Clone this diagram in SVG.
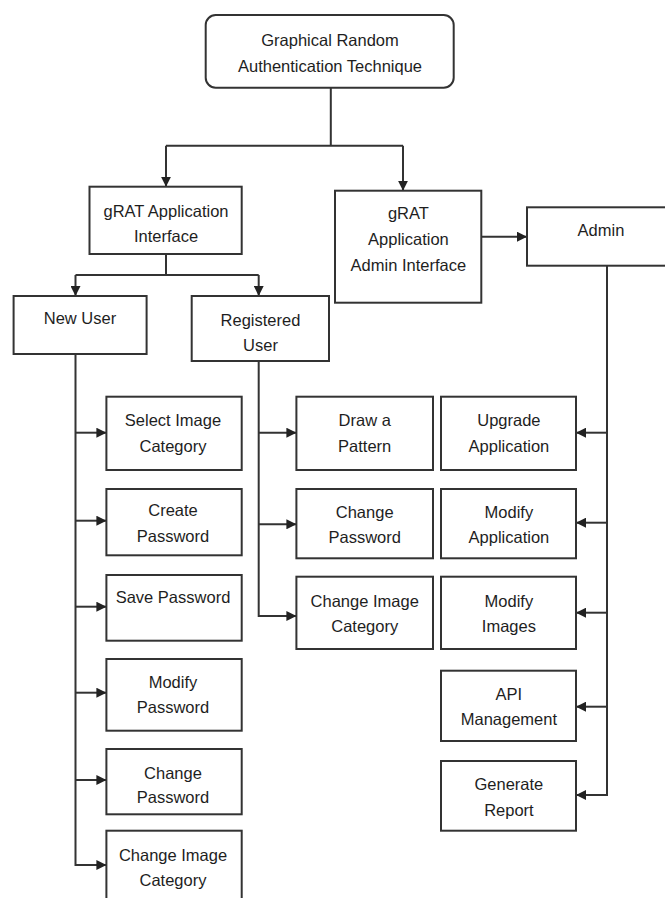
<svg xmlns="http://www.w3.org/2000/svg" width="665" height="898" viewBox="0 0 665 898">
<style>
.bx{fill:#fff;stroke:#333;stroke-width:2}
.t{font-family:"Liberation Sans",Arial,sans-serif;font-size:16.5px;fill:#1e1e1e;text-anchor:middle;dominant-baseline:central}
.c{fill:none;stroke:#333;stroke-width:2}
</style>
<defs>
<marker id="a" viewBox="0 0 10 10" refX="10" refY="5" markerWidth="10" markerHeight="10" markerUnits="userSpaceOnUse" orient="auto"><path d="M0,0 L10,5 L0,10 z" fill="#222"/></marker>
</defs>
<rect width="665" height="898" fill="#fff"/>
<g id="connectors">
<path class="c" d="M330.8,87.7 V145.7 M166,145.7 H403"/>
<path class="c" d="M166,145.7 V186.7" marker-end="url(#a)"/>
<path class="c" d="M403,145.7 V190.7" marker-end="url(#a)"/>
<path class="c" d="M481.3,236.7 H527" marker-end="url(#a)"/>
<path class="c" d="M166,254 V275 M75.5,275 H258.7"/>
<path class="c" d="M75.5,275 V296" marker-end="url(#a)"/>
<path class="c" d="M258.7,275 V296" marker-end="url(#a)"/>
<path class="c" d="M75.5,354 V865 H106.4" marker-end="url(#a)"/>
<path class="c" d="M75.5,432.7 H106.4" marker-end="url(#a)"/>
<path class="c" d="M75.5,520.7 H106.4" marker-end="url(#a)"/>
<path class="c" d="M75.5,606.7 H106.4" marker-end="url(#a)"/>
<path class="c" d="M75.5,692.7 H106.4" marker-end="url(#a)"/>
<path class="c" d="M75.5,780 H106.4" marker-end="url(#a)"/>
<path class="c" d="M258.7,361 V616 H296.4" marker-end="url(#a)"/>
<path class="c" d="M258.7,432.7 H296.4" marker-end="url(#a)"/>
<path class="c" d="M258.7,524.3 H296.4" marker-end="url(#a)"/>
<path class="c" d="M607,265.7 V795 H576" marker-end="url(#a)"/>
<path class="c" d="M607,432.7 H576" marker-end="url(#a)"/>
<path class="c" d="M607,522.7 H576" marker-end="url(#a)"/>
<path class="c" d="M607,612.7 H576" marker-end="url(#a)"/>
<path class="c" d="M607,706.7 H576" marker-end="url(#a)"/>
</g>
<g id="root"><rect class="bx" x="205.7" y="15" width="248" height="72.7" rx="10"/><text class="t" x="330" y="40">Graphical Random</text><text class="t" x="330" y="66">Authentication Technique</text></g>
<g id="appInterface"><rect class="bx" x="89.5" y="186.7" width="152.2" height="67.3"/><text class="t" x="166" y="211">gRAT Application</text><text class="t" x="166" y="236">Interface</text></g>
<g id="adminInterface"><rect class="bx" x="335" y="190.7" width="146.3" height="112"/><text class="t" x="408.4" y="213">gRAT</text><text class="t" x="408.4" y="239">Application</text><text class="t" x="408.4" y="265">Admin Interface</text></g>
<g id="admin"><rect class="bx" x="527" y="207.3" width="150" height="58.4"/><text class="t" x="601" y="229.5">Admin</text></g>
<g id="newUser"><rect class="bx" x="13.6" y="296" width="133" height="58"/><text class="t" x="80" y="318">New User</text></g>
<g id="registeredUser"><rect class="bx" x="191.7" y="296" width="137.3" height="65"/><text class="t" x="260.5" y="320">Registered</text><text class="t" x="260.5" y="345">User</text></g>
<g id="selectImageCategory"><rect class="bx" x="106.4" y="396.7" width="135.3" height="73.3"/><text class="t" x="173" y="420">Select Image</text><text class="t" x="173" y="445.7">Category</text></g>
<g id="createPassword"><rect class="bx" x="106.4" y="489" width="135.3" height="66.3"/><text class="t" x="173" y="510">Create</text><text class="t" x="173" y="536">Password</text></g>
<g id="savePassword"><rect class="bx" x="106.4" y="575" width="135.3" height="65.7"/><text class="t" x="173" y="596.7">Save Password</text></g>
<g id="modifyPassword"><rect class="bx" x="106.4" y="659" width="135.3" height="71.7"/><text class="t" x="173" y="681.7">Modify</text><text class="t" x="173" y="707.3">Password</text></g>
<g id="changePasswordNew"><rect class="bx" x="106.4" y="749" width="135.3" height="65.3"/><text class="t" x="173" y="772.7">Change</text><text class="t" x="173" y="797.3">Password</text></g>
<g id="changeImageCategoryNew"><rect class="bx" x="106.4" y="830.7" width="135.3" height="80"/><text class="t" x="173" y="855">Change Image</text><text class="t" x="173" y="880">Category</text></g>
<g id="drawPattern"><rect class="bx" x="296.4" y="396.7" width="136.6" height="73.3"/><text class="t" x="364.7" y="420">Draw a</text><text class="t" x="364.7" y="445.7">Pattern</text></g>
<g id="changePasswordReg"><rect class="bx" x="296.4" y="489" width="136.6" height="69.3"/><text class="t" x="364.7" y="511.7">Change</text><text class="t" x="364.7" y="536.7">Password</text></g>
<g id="changeImageCategoryReg"><rect class="bx" x="296.4" y="576.7" width="136.6" height="72.3"/><text class="t" x="364.7" y="600.7">Change Image</text><text class="t" x="364.7" y="626">Category</text></g>
<g id="upgradeApplication"><rect class="bx" x="441" y="396.7" width="135" height="73.3"/><text class="t" x="508.9" y="420">Upgrade</text><text class="t" x="508.9" y="445.7">Application</text></g>
<g id="modifyApplication"><rect class="bx" x="441" y="489" width="135" height="69.3"/><text class="t" x="508.9" y="511.7">Modify</text><text class="t" x="508.9" y="537">Application</text></g>
<g id="modifyImages"><rect class="bx" x="441" y="576.7" width="135" height="72.3"/><text class="t" x="508.9" y="600.7">Modify</text><text class="t" x="508.9" y="626">Images</text></g>
<g id="apiManagement"><rect class="bx" x="441" y="670.7" width="135" height="70.3"/><text class="t" x="508.9" y="694.3">API</text><text class="t" x="508.9" y="719.3">Management</text></g>
<g id="generateReport"><rect class="bx" x="441" y="761" width="135" height="69.7"/><text class="t" x="508.9" y="784.3">Generate</text><text class="t" x="508.9" y="810">Report</text></g>
</svg>
